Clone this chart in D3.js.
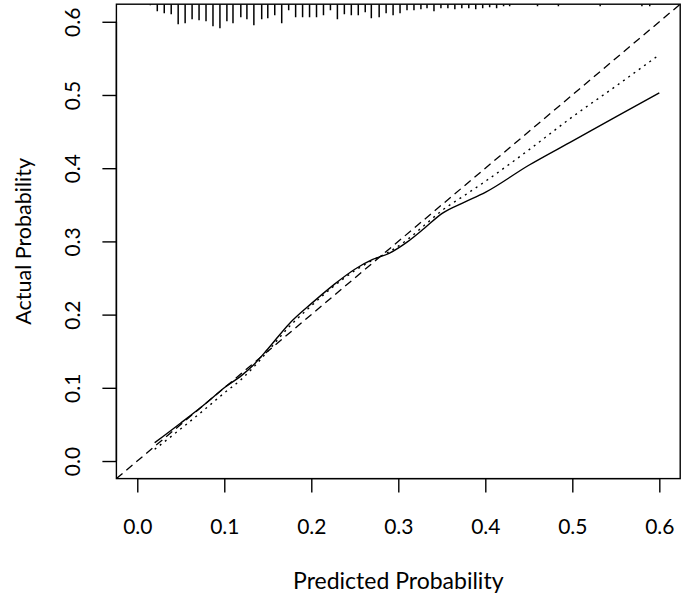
<!DOCTYPE html>
<html>
<head>
  <meta charset="utf-8">
  <script src="https://d3js.org/d3.v7.min.js"></script>
  <style>
    body { margin: 0; background: #fff; }
    text { font-family: Lato, "Open Sans", sans-serif; fill: #000; }
  </style>
</head>
<body>
<script>
  // calibration curves
  var predX   = [0.02, 0.05, 0.08, 0.10, 0.12, 0.135, 0.15, 0.175, 0.20, 0.225, 0.25, 0.27, 0.29, 0.31, 0.33, 0.35, 0.375, 0.40, 0.45, 0.50, 0.55, 0.60];
  var solidY  = [0.025, 0.052, 0.080, 0.100, 0.117, 0.133, 0.153, 0.188, 0.215, 0.240, 0.262, 0.275, 0.284, 0.299, 0.318, 0.338, 0.353, 0.367, 0.404, 0.437, 0.470, 0.503];
  var dottedY = [0.016, 0.044, 0.073, 0.093, 0.112, 0.130, 0.150, 0.184, 0.212, 0.238, 0.260, 0.274, 0.286, 0.302, 0.322, 0.342, 0.362, 0.382, 0.425, 0.470, 0.512, 0.555];

  // spike histogram of predicted probabilities (top rug)
  var rugX = [0.015, 0.023, 0.031, 0.039, 0.047, 0.055, 0.063, 0.071, 0.079, 0.087, 0.095, 0.103, 0.110, 0.119, 0.126, 0.134, 0.143, 0.150,
              0.158, 0.166, 0.174, 0.182, 0.190, 0.198, 0.206, 0.214, 0.222, 0.230, 0.238, 0.246, 0.254, 0.262, 0.269, 0.278,
              0.286, 0.294, 0.302, 0.310, 0.318, 0.326, 0.333, 0.341, 0.349, 0.357, 0.365, 0.373, 0.381, 0.389, 0.397, 0.405,
              0.413, 0.421, 0.428, 0.460, 0.484, 0.532, 0.580, 0.589];
  var rugN = [1, 7, 9, 10, 20, 19, 15, 16, 17, 22, 24, 17, 19, 13, 15, 21, 15, 14,
              11, 19, 6, 13, 13, 13, 13, 11, 6, 15, 10, 11, 11, 8, 14, 13,
              9, 11, 9, 6, 6, 5, 4, 7, 4, 4, 5, 4, 4, 5, 4, 3,
              4, 2, 2, 2, 2, 2, 2, 2];

  var ticks = [0.0, 0.1, 0.2, 0.3, 0.4, 0.5, 0.6];

  var W = 685, H = 601;
  var L = 116.4, R = 680.2, T = 4.2, B = 478.6;

  var x = d3.scaleLinear().domain([-0.024, 0.624]).range([L, R]);
  var y = d3.scaleLinear().domain([-0.024, 0.624]).range([B, T]);

  var svg = d3.select("body").append("svg")
      .attr("width", W).attr("height", H);

  svg.append("clipPath").attr("id", "plotclip")
    .append("rect").attr("x", L).attr("y", T).attr("width", R - L).attr("height", B - T);

  var plot = svg.append("g").attr("clip-path", "url(#plotclip)");

  // ideal line
  plot.append("line")
      .attr("x1", x(-0.024)).attr("y1", y(-0.024))
      .attr("x2", x(0.624)).attr("y2", y(0.624))
      .attr("stroke", "#000").attr("stroke-width", 1.3)
      .attr("stroke-dasharray", "8,5");

  var line = function(ys) {
    return d3.line()
      .x(function(d, i) { return x(predX[i]); })
      .y(function(d) { return y(d); })
      .curve(d3.curveMonotoneX)(ys);
  };

  plot.append("path").attr("d", line(dottedY))
      .attr("fill", "none").attr("stroke", "#000").attr("stroke-width", 1.4)
      .attr("stroke-dasharray", "2,4.5");

  plot.append("path").attr("d", line(solidY))
      .attr("fill", "none").attr("stroke", "#000").attr("stroke-width", 1.4);

  // rug from top edge
  var spike = d3.scaleLinear().domain([0, d3.max(rugN)]).range([0, 24]);
  plot.selectAll("line.rug").data(rugX).enter().append("line")
      .attr("class", "rug")
      .attr("x1", function(d) { return x(d); }).attr("x2", function(d) { return x(d); })
      .attr("y1", T).attr("y2", function(d, i) { return T + spike(rugN[i]); })
      .attr("stroke", "#000").attr("stroke-width", 1.5);

  // box
  svg.append("rect").attr("x", L).attr("y", T).attr("width", R - L).attr("height", B - T)
      .attr("fill", "none").attr("stroke", "#000").attr("stroke-width", 1.4);

  // x axis
  var xa = svg.append("g").attr("transform", "translate(0," + B + ")")
      .call(d3.axisBottom(x).tickValues(ticks).tickSize(14).tickPadding(26).tickFormat(d3.format(".1f")));
  xa.select(".domain").attr("d", "M" + x(0) + ",0H" + x(0.6)).attr("stroke-width", 1.4);
  xa.selectAll(".tick line").attr("stroke-width", 1.4);
  xa.selectAll(".tick text").attr("font-size", 21).attr("font-family", "Lato, sans-serif");

  // y axis
  var ya = svg.append("g").attr("transform", "translate(" + L + ",0)")
      .call(d3.axisLeft(y).tickValues(ticks).tickSize(14).tickFormat(d3.format(".1f")));
  ya.select(".domain").attr("d", "M0," + y(0) + "V" + y(0.6)).attr("stroke-width", 1.4);
  ya.selectAll(".tick line").attr("stroke-width", 1.4);
  ya.selectAll(".tick text").remove();
  ya.selectAll(".tick").append("text")
      .attr("transform", "translate(-36,0) rotate(-90)")
      .attr("text-anchor", "middle")
      .attr("font-size", 21)
      .attr("font-family", "Lato, sans-serif")
      .text(function(d) { return d3.format(".1f")(d); });

  // titles
  svg.append("text").attr("x", (L + R) / 2).attr("y", 589)
      .attr("text-anchor", "middle").attr("font-size", 23)
      .text("Predicted Probability");

  svg.append("text").attr("transform", "translate(31," + ((T + B) / 2) + ") rotate(-90)")
      .attr("text-anchor", "middle").attr("font-size", 21.5)
      .text("Actual Probability");
</script>
</body>
</html>
